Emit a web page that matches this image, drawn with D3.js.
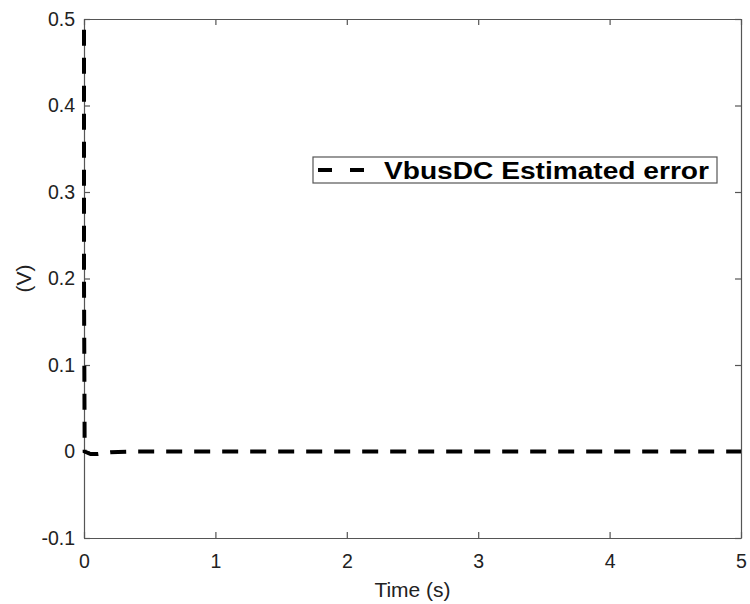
<!DOCTYPE html>
<html>
<head>
<meta charset="utf-8">
<script src="https://cdn.jsdelivr.net/npm/d3@7"></script>
<style>
  body { margin: 0; background: #fff; }
  text { font-family: "Liberation Sans", Arial, sans-serif; }
</style>
</head>
<body>
<script>
// data
let timeValues = [0, 0, 0.005, 0.05, 0.1, 0.2, 0.4, 1, 2, 3, 4, 5];
let errorValues = [0.52, 0.2, 0, -0.003, -0.003, -0.001, 0, 0, 0, 0, 0, 0];
let xTicks = [0, 1, 2, 3, 4, 5];
let yTicks = [-0.1, 0, 0.1, 0.2, 0.3, 0.4, 0.5];
let seriesName = "VbusDC Estimated error";

let margin = {top: 19, left: 84, bottom: 66, right: 9};
let width = 750 - margin.left - margin.right;
let height = 604 - margin.top - margin.bottom;

let svg = d3.select("body").append("svg")
  .attr("width", 750)
  .attr("height", 604);

let g = svg.append("g")
  .attr("transform", `translate(${margin.left}, ${margin.top})`);

let x = d3.scaleLinear().domain([0, 5]).range([0, width]);
let y = d3.scaleLinear().domain([-0.1, 0.5]).range([height, 0]);

// axes with inward ticks, box on all sides
function styleAxis(sel) {
  sel.select(".domain").attr("stroke", "#555").attr("stroke-width", 1.2);
  sel.selectAll(".tick line").attr("stroke", "#555").attr("stroke-width", 1.2);
  sel.selectAll("text").attr("font-size", 19.5).attr("fill", "#222")
    .style("font-family", "'Liberation Sans', Arial, sans-serif");
}

let fmtY = d => d === 0 ? "0" : d3.format(".1f")(d).replace("\u2212", "-");

g.append("g")
  .attr("transform", `translate(0, ${height})`)
  .call(d3.axisBottom(x).tickValues(xTicks).tickSize(-6).tickPadding(16).tickSizeOuter(0).tickFormat(d3.format("d")))
  .call(styleAxis);

g.append("g")
  .call(d3.axisLeft(y).tickValues(yTicks).tickSize(-6).tickPadding(9).tickSizeOuter(0).tickFormat(fmtY))
  .call(styleAxis);

g.append("g")
  .call(d3.axisTop(x).tickValues(xTicks).tickSize(-6).tickSizeOuter(0).tickFormat(""))
  .call(styleAxis);

g.append("g")
  .attr("transform", `translate(${width}, 0)`)
  .call(d3.axisRight(y).tickValues(yTicks).tickSize(-6).tickSizeOuter(0).tickFormat(""))
  .call(styleAxis);

// clip for the data
g.append("clipPath").attr("id", "clip")
  .append("rect").attr("x", -3).attr("y", 0).attr("width", width + 3).attr("height", height);

let data = timeValues.map((t, i) => ({t: t, v: errorValues[i]}));

let line = d3.line()
  .x(d => x(d.t))
  .y(d => y(d.v));

g.append("path")
  .datum(data)
  .attr("clip-path", "url(#clip)")
  .attr("fill", "none")
  .attr("stroke", "#000")
  .attr("stroke-width", 4)
  .attr("stroke-dasharray", "16,12")
  .attr("d", line);

// axis labels
svg.append("text")
  .attr("x", margin.left + width / 2)
  .attr("y", 597)
  .attr("text-anchor", "middle")
  .attr("font-size", 21)
  .attr("fill", "#222")
  .text("Time (s)");

svg.append("text")
  .attr("transform", `translate(31, ${margin.top + height / 2}) rotate(-90)`)
  .attr("text-anchor", "middle")
  .attr("font-size", 21)
  .attr("fill", "#222")
  .text("(V)");

// legend
let legend = svg.append("g").attr("transform", "translate(313, 157)");
legend.append("rect")
  .attr("width", 404).attr("height", 26)
  .attr("fill", "#fff").attr("stroke", "#555").attr("stroke-width", 1.2);
legend.append("line")
  .attr("x1", 5).attr("x2", 55).attr("y1", 13).attr("y2", 13)
  .attr("stroke", "#000").attr("stroke-width", 4)
  .attr("stroke-dasharray", "14,18");
legend.append("text")
  .attr("x", 71).attr("y", 22)
  .attr("font-size", 23).attr("font-weight", "bold")
  .attr("textLength", 325).attr("lengthAdjust", "spacingAndGlyphs")
  .text(seriesName);
</script>
</body>
</html>
